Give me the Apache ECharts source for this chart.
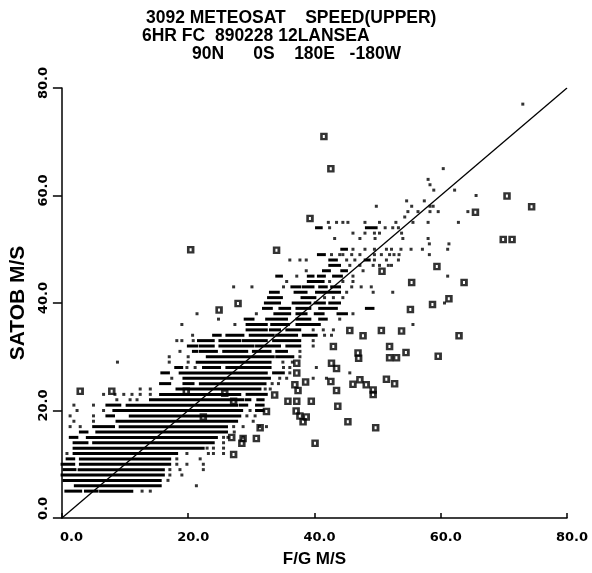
<!DOCTYPE html>
<html><head><meta charset="utf-8">
<script src="https://cdn.jsdelivr.net/npm/echarts@6/dist/echarts.min.js"></script>
<style>html,body{margin:0;padding:0;background:#fff}#c{width:592px;height:573px}</style>
</head><body><div id="c"></div>
<script>
const titleLines = ['3092 METEOSAT    SPEED(UPPER)', '6HR FC  890228 12LANSEA', '90N      0S    180E   -180W'];
const xName = 'F/G M/S';
const yName = 'SATOB M/S';
const tickValues = [0, 20, 40, 60, 80];
const diagonal = [[0, 0], [80, 80]];

// dense horizontal runs of accepted obs: [y, [[xStart, xEnd], ...]]
const streakRows = [
 [5, [[0.6,3],[3.7,5.6],[6.1,11.1]]],
 [6, [[2.1,15.6]]],
 [7, [[0.3,15.6]]],
 [8, [[0,16.1]]],
 [9, [[0.3,2.1],[2.7,16.1]]],
 [10, [[0,1.9],[2.9,17.1]]],
 [11, [[0.8,1.9],[2.9,17.1]]],
 [12, [[1.9,18.2]]],
 [13, [[1.9,22.4]]],
 [14, [[1.9,4],[5,24]]],
 [15, [[1.3,2.4],[4,24.5]]],
 [16, [[2.9,4],[5.5,26.1]]],
 [17, [[5,8.2],[9.2,26.1]]],
 [18, [[8.7,27.7]]],
 [19, [[7.1,8.2],[10.8,28.2]]],
 [20, [[8.2,28.5],[30.8,31.9]]],
 [21, [[7.1,9.2],[10.3,27.7],[28.2,29.3],[30.8,31.9]]],
 [22, [[14,28.7],[29.2,29.8],[31,31.9]]],
 [23, [[15.6,28.2],[29.3,32.4]]],
 [24, [[18.2,31.4]]],
 [25, [[15.6,17.1],[19.3,20.8],[21.9,32.2]]],
 [26, [[19.3,32.9]]],
 [27, [[15.8,16.9],[18.7,32.4],[33.5,35.1]]],
 [28, [[18,19],[22.4,25],[26.1,33]]],
 [29, [[21.4,33]]],
 [30, [[23,33.5],[34,36.6]]],
 [31, [[20.8,21.4],[21.9,24.5],[25.6,29.3],[30.3,33],[34,35.6]]],
 [32, [[20,21.4],[21.9,24],[25,30.3],[30.8,34.5],[35.6,37.7]]],
 [33, [[21.6,24],[25,28.2],[28.7,32.4],[33.5,37.7]]],
 [34, [[24,25.1],[26.1,28.7],[29.8,33.5],[34,37.2],[38.2,40.3]]],
 [35, [[29.3,32.4],[33,34.5],[35.6,37.7]]],
 [36, [[29.3,32.4],[33.2,35.9],[37.2,40.8]]],
 [37, [[29,30.3],[32.4,35.6],[37.2,39.3],[40.8,41.9]]],
 [38, [[33.7,36.1],[37.2,38.7],[40.1,41.4],[43.7,45.1]]],
 [39, [[31.9,33.2],[34.5,36.1],[37.2,39.3],[40.8,43.5],[48.2,49.3]]],
 [40, [[32.2,34.5],[36.6,39.3],[40.1,41.6],[42.4,44]]],
 [41, [[32.7,34.8],[38,40.1]]],
 [42, [[33,34.3],[36.9,38.7],[40.3,44]]],
 [43, [[36.4,37.7],[38.2,39.8],[40.8,41.9],[42.7,44]]],
 [44, [[39,41.4]]],
 [45, [[34,34.8],[39,39.8],[40.6,41.6],[43,44.3]]],
 [46, [[41.4,42.4],[44.3,45.1]]],
 [47, [[42.4,44]]],
 [48, [[42.4,43.5],[48,48.7]]],
 [49, [[40.6,41.6]]],
 [50, [[44.3,45.1]]],
 [54, [[40.3,41.1],[48.2,49.8]]]
];

// isolated accepted obs: [y, [x, ...]]
const dotRows = [
 [5, [12.7, 14.0]],
 [6, [21.3]],
 [7, [16.8]],
 [8, [17.1, 19]],
 [9, [17.1, 18.7, 22.4]],
 [10, [18.2, 19.8, 22.4]],
 [11, [18.2, 21.9]],
 [12, [0.8, 19.8, 23.2, 24, 25.6]],
 [13, [23, 24, 25.6]],
 [14, [25.6]],
 [15, [25.6, 26.3, 28.7]],
 [16, [27.3]],
 [17, [1.3, 2.9, 27.2, 28.7, 31.3, 32.4]],
 [18, [1.9, 5, 30.3]],
 [19, [1.3, 5, 29.3, 30.6]],
 [20, [2.4, 6.6, 29.8]],
 [21, [1.9, 5]],
 [22, [8.7, 10.8, 11.9]],
 [23, [6.6, 8.4, 9.8, 11.1, 12.4, 14]],
 [24, [12.4, 14, 32.2, 33]],
 [25, [33.3, 34.3]],
 [26, [17.4, 34.5, 35.6, 39.8, 41.9]],
 [27, [36.1, 45.6]],
 [28, [19.8, 21.1, 35.1, 36.1, 40.3]],
 [29, [8.8, 17, 20, 35, 36.5]],
 [30, [17, 20, 37.7]],
 [31, [18.7, 37.7]],
 [32, [39.8]],
 [33, [18.2, 19, 20.8, 39.8]],
 [34, [20.7, 41.6, 42.7]],
 [35, [39.8, 41.4, 43]],
 [36, [19, 27.4, 55.6]],
 [37, [24.8, 44]],
 [38, [21.4, 30.8, 46.1]],
 [40, [60.6]],
 [41, [41.6, 43, 44.5]],
 [42, [45.1, 49.3, 52.4]],
 [43, [27.2, 30.1, 35.1, 45.9, 47.4, 49]],
 [44, [35.6, 42.4, 44.5, 46.1]],
 [45, [37.2, 46.1, 61.1]],
 [46, [38.7, 47.7]],
 [47, [45.6, 47.2, 49.3, 50.3, 51.7, 52.2]],
 [48, [36.1, 37.7, 38.7, 45.1, 46.4, 49.5, 51.4, 53.3]],
 [49, [42.7, 44, 44.5, 45.9, 47.2, 49.5, 50.6, 51.9, 52.6, 53.4, 58.2]],
 [50, [46.1, 48, 49.5, 51.4, 52.2, 53.7, 55.3, 57.1, 61.1]],
 [51, [58.2, 61.3]],
 [52, [43.2, 47.2, 49.6, 54, 58]],
 [53, [46.1, 48, 49.5, 50.3, 53.8]],
 [54, [42.4, 51.2, 52.4, 53.3]],
 [55, [42.2, 43.5, 44.5, 45.3, 48, 50.3, 52.9, 55.6, 58, 62.8]],
 [56, [54.3]],
 [57, [54.8, 56.4, 58.3, 59.6, 64.3]],
 [58, [49.8, 55.4, 58.3, 58.8]],
 [59, [54.6, 57.4]],
 [60, [65.6]],
 [61, [58.9, 62.2]],
 [62, [58.3]],
 [63, [58]],
 [65, [60.4]],
 [77, [73]]
];

// rejected obs (boxed symbols): [x, y]
const rejected = [
 [2.9,23.6],[7.9,23.6],[19.7,23.6],[25.8,23.2],[27.2,21.7],[22.4,18.8],
 [20.4,49.9],[24.9,38.7],[27.9,39.9],[34,49.8],[39.3,55.7],[41.5,71],[42.6,65],
 [50.7,45.9],[45.6,34.9],[47.7,33.9],[50.6,34.9],[43,31.9],[51.9,31.9],[46.9,30.7],[47,29.7],
 [51.9,29.8],[53,29.8],[37.2,28.8],[42.7,28.8],[43.5,27.8],[37.2,27],
 [36.9,24.8],[38.6,25.3],[37.4,23.7],[42.6,25.4],[43.5,23.7],[46.1,24.9],[47.2,25.7],[48.2,24.8],
 [49.3,23.8],[49.3,23],[51.4,25.8],[52.7,25],
 [33.7,22.9],[35.8,21.7],[37.2,21.7],[39.5,21.7],[43.7,20.8],[32.4,19.8],[37.1,19.9],[37.7,19],
 [38.7,18.8],[38.2,17.9],[45.3,17.9],[31.4,16.8],[49.7,16.8],[26.9,15],[28.7,14.8],[28.5,13.9],
 [30.8,14.8],[40.1,13.9],[27.2,11.8],
 [70.5,59.9],[65.5,56.9],[74.4,57.9],[69.9,51.8],[71.3,51.8],[59.4,46.8],[55.4,43.8],[63.7,43.8],
 [61.3,40.8],[58.7,39.7],[55.2,38.8],[53.8,34.8],[62.9,33.9],[54.5,30.8],[59.6,30.1]
];

const streakData = [];
streakRows.forEach(([y, segs]) => segs.forEach(([a, b]) => streakData.push([y, a, b])));
const dotData = [];
dotRows.forEach(([y, xs]) => xs.forEach(x => dotData.push([x, y])));

const chart = echarts.init(document.getElementById('c'), null, {renderer: 'canvas'});
const labelFont = {fontFamily: 'DejaVu Sans', fontWeight: 'bold', fontSize: 13, color: '#000'};
const fmt = v => (v === 0 ? '\u2007' : '') + v.toFixed(1);
const titleStyle = {fontFamily: 'Liberation Sans', fontWeight: 'bold', fontSize: 17.5, color: '#000'};

chart.setOption({
  animation: false,
  backgroundColor: '#fff',
  title: [
    {text: titleLines[0], left: 146, top: 9, textStyle: titleStyle, padding: 0},
    {text: titleLines[1], left: 142, top: 27, textStyle: titleStyle, padding: 0},
    {text: titleLines[2], left: 192, top: 45, textStyle: titleStyle, padding: 0}
  ],
  grid: {left: 61, right: 25, top: 88, bottom: 52, containLabel: false},
  xAxis: {
    type: 'value', min: 0, max: 80, interval: 20,
    name: xName, nameLocation: 'middle', nameGap: 33,
    nameTextStyle: {fontFamily: 'Liberation Sans', fontWeight: 'bold', fontSize: 17, color: '#000'},
    axisLine: {show: true, lineStyle: {color: '#000', width: 1.5}},
    axisTick: {show: true, inside: true, length: 5, lineStyle: {color: '#000', width: 1.5}},
    axisLabel: Object.assign({margin: 13, formatter: fmt, padding: [0, 0, 0, 10]}, labelFont),
    splitLine: {show: false}
  },
  yAxis: {
    type: 'value', min: 0, max: 80, interval: 20,
    name: yName, nameLocation: 'middle', nameGap: 28, nameRotate: 90,
    nameTextStyle: {fontFamily: 'Liberation Sans', fontWeight: 'bold', fontSize: 21, color: '#000', padding: [0, 0, 0, 0]},
    axisLine: {show: true, lineStyle: {color: '#000', width: 1.5}},
    axisTick: {show: true, inside: false, length: 9, lineStyle: {color: '#000', width: 1.5}},
    axisLabel: Object.assign({margin: 12, rotate: 90, formatter: fmt, padding: [0, 0, 0, 10]}, labelFont),
    splitLine: {show: false}
  },
  series: [
    {
      type: 'custom', name: 'streaks', data: streakData,
      encode: {x: [1, 2], y: 0},
      renderItem: (params, api) => {
        const y = api.value(0), x0 = api.value(1), x1 = api.value(2);
        const p0 = api.coord([x0, y]), p1 = api.coord([x1, y]);
        return {type: 'rect', shape: {x: p0[0] - 1.3, y: p0[1] - 1.5, width: p1[0] - p0[0] + 2.6, height: 3}, style: {fill: '#000'}};
      },
      z: 2
    },
    {
      type: 'scatter', name: 'dots', data: dotData, symbol: 'rect', symbolSize: 3,
      itemStyle: {color: '#000'}, z: 3
    },
    {
      type: 'scatter', name: 'rejected', data: rejected,
      symbol: 'path://M0,0L10,0L10,10L0,10Z M3.5,3L3.5,7L6.2,7L6.2,3Z', symbolSize: 7.5,
      itemStyle: {color: '#000'}, z: 4
    },
    {
      type: 'line', name: 'diagonal', data: diagonal, symbol: 'none',
      lineStyle: {color: '#000', width: 1.3}, z: 5
    }
  ]
});
</script>
</body></html>
